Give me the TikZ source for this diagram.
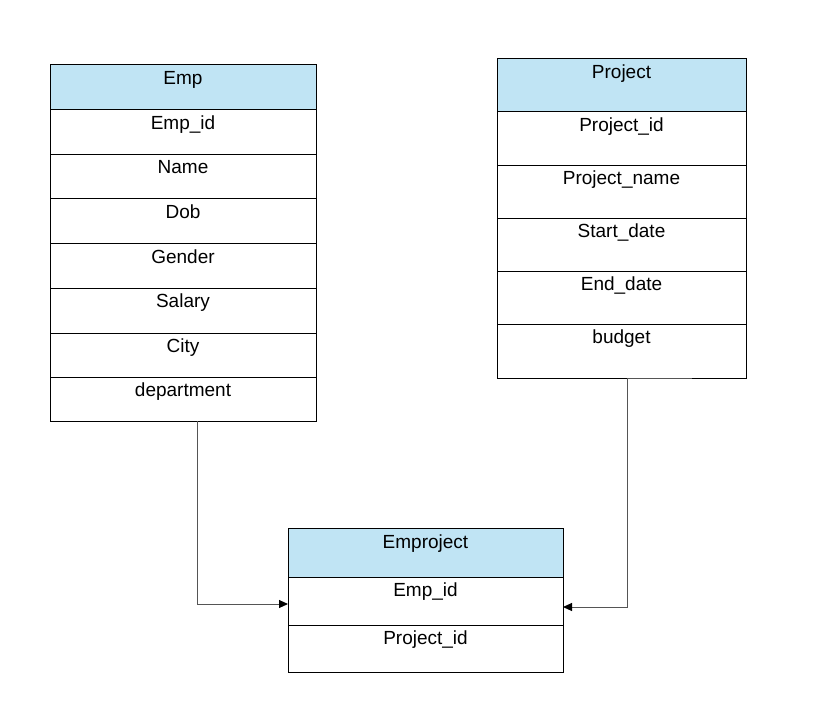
\documentclass[tikz,border=0pt]{standalone}
\usepackage{fontspec}
\setmainfont{Liberation Sans}
\usetikzlibrary{arrows.meta}
\definecolor{hdr}{HTML}{C0E4F4}
\definecolor{conn}{HTML}{555555}
\tikzset{
  tbl/.style={draw=black,line width=1.1pt,inner sep=0pt,anchor=north west},
  sep/.style={draw=black,line width=1pt},
  lbl/.style={anchor=base,inner sep=0pt,font=\fontsize{19}{22}\selectfont},
  link/.style={draw=conn,line width=1pt,-{Triangle[length=9pt,width=8pt,color=black]}},
}
\begin{document}
\begin{tikzpicture}[x=1pt,y=-1pt]
\useasboundingbox (0,0) rectangle (823,724);
% ================= Emp
\fill[hdr] (50,64) rectangle (316,109);
\node[tbl,minimum width=266pt,minimum height=357pt] (emp) at (50,64) {};
\foreach \yy in {109,154,198,243,288,333,377}{\draw[sep] (50,\yy) -- (316,\yy);}
\node[lbl] (empT) at (183,84) {Emp};
\node[lbl] (empA1) at (183,129) {Emp\_id};
\node[lbl] (empA2) at (183,173) {Name};
\node[lbl] (empA3) at (183,218) {Dob};
\node[lbl] (empA4) at (183,263) {Gender};
\node[lbl] (empA5) at (183,307) {Salary};
\node[lbl] (empA6) at (183,352) {City};
\node[lbl] (empA7) at (183,396) {department};
% ================= Project
\fill[hdr] (497,58) rectangle (746,111);
\node[tbl,minimum width=249pt,minimum height=320pt] (prj) at (497,58) {};
\foreach \yy in {111,165,218,271,324}{\draw[sep] (497,\yy) -- (746,\yy);}
\node[lbl] (prjT) at (621.5,78) {Project};
\node[lbl] (prjA1) at (621.5,131) {Project\_id};
\node[lbl] (prjA2) at (621.5,184) {Project\_name};
\node[lbl] (prjA3) at (621.5,237) {Start\_date};
\node[lbl] (prjA4) at (621.5,290) {End\_date};
\node[lbl] (prjA5) at (621.5,343) {budget};
% ================= Emproject
\fill[hdr] (288,528) rectangle (563,577);
\node[tbl,minimum width=275pt,minimum height=144pt] (ep) at (288,528) {};
\draw[sep] (288,577) -- (563,577);
\draw[sep] (288,625) -- (563,625);
\node[lbl] (epT) at (425.5,548) {Emproject};
\node[lbl] (epA1) at (425.5,596) {Emp\_id};
\node[lbl] (epA2) at (425.5,644) {Project\_id};
% ================= connectors
\coordinate (c1s) at (197,421);
\coordinate (c1e) at (288,604);
\coordinate (c2s) at (627,378);
\coordinate (c2e) at (563,607);
\draw[link] (c1s) |- (c1e);
\draw[link] (c2s) |- (c2e);
\coordinate (m1) at (627,378.5);
\coordinate (m2) at (692,378.5);
\draw[conn,line width=1.4pt] (m1) -- (m2);
\end{tikzpicture}
\end{document}
